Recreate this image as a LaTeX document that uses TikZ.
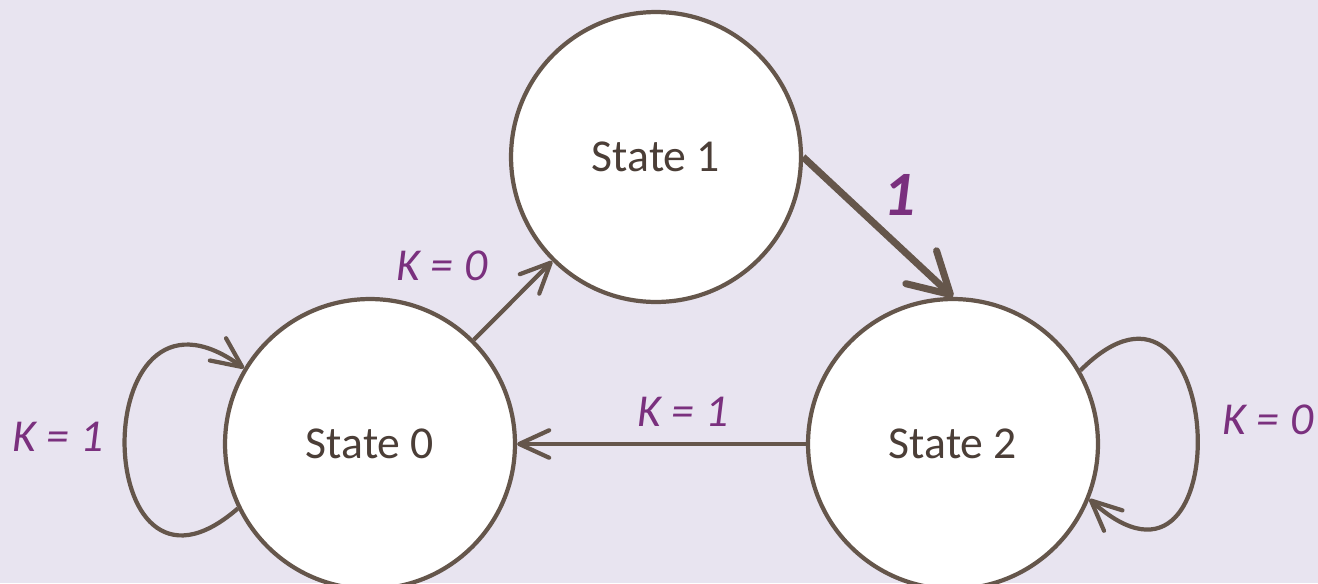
\documentclass[tikz,border=0pt]{standalone}
\usepackage{fontspec}
\setmainfont{Carlito}
\usetikzlibrary{arrows.meta}
\definecolor{edgebrown}{RGB}{101,86,75}
\definecolor{textbrown}{RGB}{75,62,55}
\definecolor{condpurple}{RGB}{122,48,126}
\definecolor{bglilac}{RGB}{232,228,240}

\begin{document}
\begin{tikzpicture}[x=0.02cm, y=0.02cm,
  state/.style={circle, draw=edgebrown, fill=white, line width=2.4pt,
    minimum size=5.8cm, inner sep=0pt, text=textbrown,
    font=\fontsize{26}{30}\selectfont},
  trans/.style={draw=edgebrown, line width=2.4pt,
    -{Straight Barb[length=0.6cm,width=0.55cm,round]}},
  cond/.style={text=condpurple, font=\fontsize{26}{30}\selectfont\itshape}]
  \fill[bglilac] (0,0) rectangle (1318,583);
  \useasboundingbox (0,0) rectangle (1318,583);
  % states
  \node[state] (s1) at (656,426) {State 1};
  \node[state] (s0) at (370,139) {State 0};
  \node[state] (s2) at (953,139) {State 2};
  % transitions
  \draw[trans] (s0) -- (s1);
  \draw[trans, line width=4pt,
    -{Straight Barb[length=0.8cm,width=0.9cm,round]}] (s1.east) -- (s2.north);
  \draw[trans] (s2) -- (s0);
  \draw[trans] (s0.206) to[out=221, in=144, looseness=3.6] (s0.149);
  \draw[trans] (s2.30) to[out=45, in=318, looseness=4.1] (s2.338);
  % conditions
  \node[cond] (k01) at (442,317) {K = 0};
  \node[cond] (k12) at (683,171) {K = 1};
  \node[cond] (k00) at (58,146) {K = 1};
  \node[cond] (k22) at (1268,163) {K = 0};
  \node[text=condpurple, font=\fontsize{36}{40}\selectfont\bfseries\itshape]
    (one) at (900,388) {1};
\end{tikzpicture}
\end{document}
